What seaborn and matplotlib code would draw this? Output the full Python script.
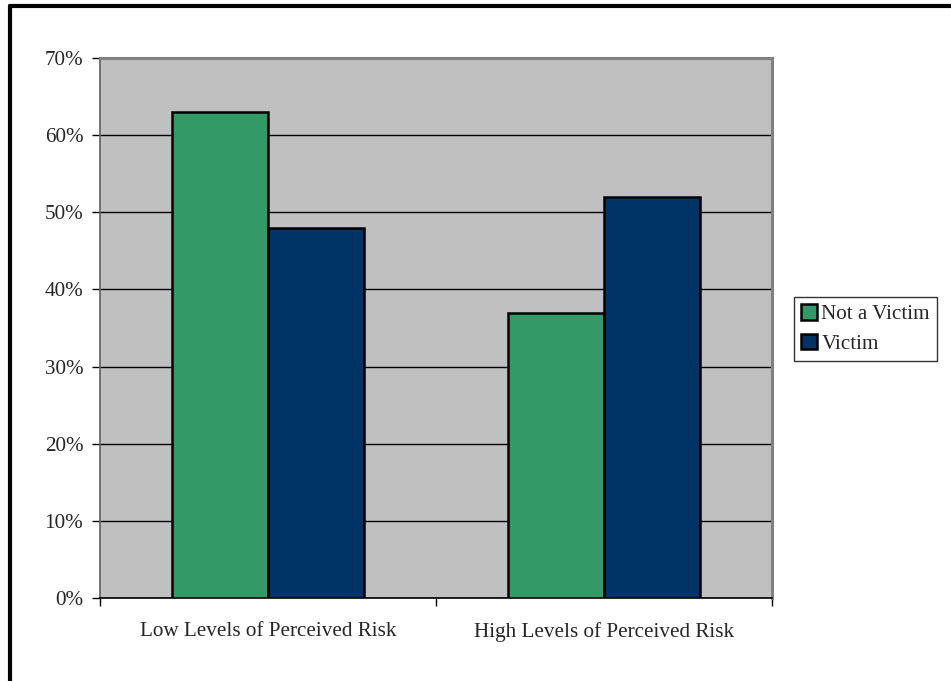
"""Perceived risk by victimization status, grouped bar chart."""

import matplotlib

matplotlib.use("Agg")
import matplotlib.pyplot as plt
from matplotlib.lines import Line2D
from matplotlib.ticker import FixedLocator, PercentFormatter
import pandas as pd
import seaborn as sns

CATEGORIES = ["Low Levels of Perceived Risk", "High Levels of Perceived Risk"]
SERIES = ["Not a Victim", "Victim"]
NOT_VICTIM = [63, 37]
VICTIM = [48, 52]
COLORS = {"Not a Victim": "#339966", "Victim": "#003366"}

df = pd.DataFrame(
    {
        "category": CATEGORIES * 2,
        "series": [SERIES[0]] * 2 + [SERIES[1]] * 2,
        "value": NOT_VICTIM + VICTIM,
    }
)

sns.set_theme(style="white")
plt.rcParams["font.family"] = ["Liberation Serif", "DejaVu Serif"]
FONT_SIZE = 15.2

fig = plt.figure(figsize=(9.51, 6.81), dpi=100)
ax = fig.add_axes([100 / 951, 1 - 598 / 681, 672 / 951, 540 / 681])
ax.set_facecolor("#C0C0C0")

sns.barplot(
    data=df,
    x="category",
    y="value",
    hue="series",
    order=CATEGORIES,
    hue_order=SERIES,
    palette=COLORS,
    width=0.571,
    edgecolor="black",
    linewidth=1.8,
    saturation=1,
    ax=ax,
    zorder=3,
)

ax.set_xlim(-0.5, 1.5)
ax.set_ylim(0, 70)
ax.yaxis.set_major_locator(FixedLocator(range(0, 71, 10)))
ax.yaxis.set_major_formatter(PercentFormatter(decimals=0))
ax.grid(axis="y", color="black", linewidth=1.0, zorder=1)
ax.set_axisbelow(True)
ax.set_xlabel("")
ax.set_ylabel("")

ax.tick_params(axis="y", which="major", left=True, length=6, width=1, color="black",
               labelsize=FONT_SIZE, pad=6)
ax.tick_params(axis="x", which="major", bottom=False, labelsize=FONT_SIZE, pad=11)
ax.xaxis.set_minor_locator(FixedLocator([-0.5, 0.5, 1.5]))
ax.tick_params(axis="x", which="minor", bottom=True, length=6, width=1, color="black")

for side in ["top", "right"]:
    ax.spines[side].set_color("#808080")
    ax.spines[side].set_linewidth(2.2)
ax.spines["left"].set_color("#606060")
ax.spines["left"].set_linewidth(1.2)
ax.spines["bottom"].set_color("black")
ax.spines["bottom"].set_linewidth(1.2)

handles, labels = ax.get_legend_handles_labels()
ax.legend(
    handles,
    labels,
    loc="center left",
    bbox_to_anchor=(794 / 951, 1 - 329 / 681),
    bbox_transform=fig.transFigure,
    frameon=True,
    fancybox=False,
    edgecolor="black",
    fontsize=FONT_SIZE,
    handlelength=0.75,
    handleheight=0.75,
    handletextpad=0.2,
    borderpad=0.35,
    labelspacing=0.45,
    borderaxespad=0,
)
ax.get_legend().get_frame().set_linewidth(1.0)

# outer frame: only the top and left edges are visible in the source
fig.add_artist(Line2D([10 / 951, 1], [1 - 6 / 681, 1 - 6 / 681], color="black",
                      linewidth=3, transform=fig.transFigure))
fig.add_artist(Line2D([10 / 951, 10 / 951], [0, 1 - 6 / 681], color="black",
                      linewidth=3, transform=fig.transFigure))

fig.savefig("out.png", dpi=100)
